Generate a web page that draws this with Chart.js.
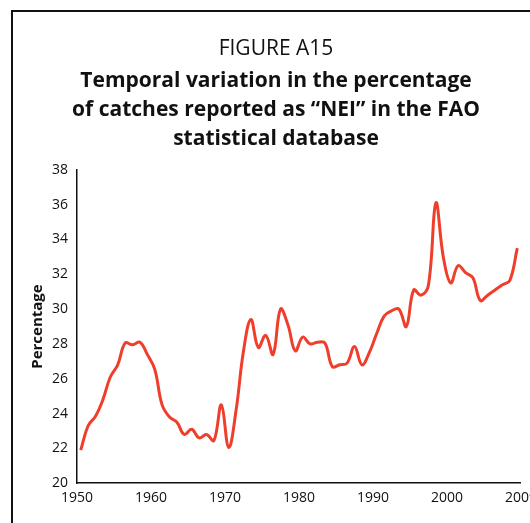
<!DOCTYPE html>
<html>
<head>
<meta charset="utf-8">
<script src="https://cdn.jsdelivr.net/npm/chart.js@4"></script>
<style>
  body { margin: 0; background: #fff; overflow: hidden; width: 530px; height: 523px; }
  #frame {
    position: absolute; left: 11px; top: 10px; width: 540px; height: 530px;
    border-left: 2px solid #111; border-top: 2px solid #111;
  }
  #wrap { position: absolute; left: 0; top: 0; width: 526px; height: 511px; }
</style>
</head>
<body>
<div id="frame"><div id="wrap"><canvas id="chart"></canvas></div></div>
<script>
// Years 1950-2009, each drawn at the centre of its year slot
var years = [];
for (var y = 1950; y <= 2009; y++) years.push(y);

// Percentage of catches reported as "NEI"
var nei = [
  21.9, 23.3, 23.85, 24.8, 26.1, 26.8, 28.05, 27.95, 28.1, 27.4,
  26.55, 24.5, 23.8, 23.5, 22.8, 23.1, 22.6, 22.8, 22.45, 24.5,
  22.05, 24.2, 27.6, 29.4, 27.8, 28.5, 27.4, 30.0, 29.1, 27.6,
  28.4, 28.0, 28.1, 28.05, 26.7, 26.8, 26.9, 27.85, 26.8, 27.5,
  28.6, 29.6, 29.9, 30.0, 29.0, 31.1, 30.8, 31.4, 36.1, 33.0,
  31.5, 32.5, 32.1, 31.8, 30.5, 30.8, 31.1, 31.4, 31.65, 33.5
];

var yTicks = [20, 22, 24, 26, 28, 30, 32, 34, 36, 38];
var xTicks = [1950, 1960, 1970, 1980, 1990, 2000, 2010];
var xTickLabels = ["1950", "1960", "1970", "1980", "1990", "2000", "2009"];

var points = years.map(function (yr, i) {
  return { x: yr + 0.5, y: nei[i] };
});

var font = "'Open Sans', 'Noto Sans', sans-serif";

new Chart(document.getElementById("chart").getContext("2d"), {
  type: "line",
  data: {
    datasets: [{
      data: points,
      borderColor: "#ef3e2c",
      borderWidth: 3,
      pointRadius: 0,
      tension: 0.4,
      fill: false
    }]
  },
  options: {
    responsive: true,
    maintainAspectRatio: false,
    animation: false,
    layout: { padding: { left: 0, right: 0, top: 0, bottom: 15 } },
    plugins: {
      legend: { display: false },
      tooltip: { enabled: false },
      title: {
        display: true,
        text: "FIGURE A15",
        color: "#111",
        font: { family: font, size: 21, weight: "normal", lineHeight: 1.2 },
        padding: { top: 24, bottom: 3 }
      },
      subtitle: {
        display: true,
        text: [
          "Temporal variation in the percentage",
          "of catches reported as \u201cNEI\u201d in the FAO",
          "statistical database"
        ],
        color: "#111",
        font: { family: font, size: 21, weight: "bold", lineHeight: 1.36 },
        padding: { top: 3, bottom: 17 }
      }
    },
    scales: {
      x: {
        type: "linear",
        min: 1950,
        max: 2010,
        afterBuildTicks: function (axis) {
          axis.ticks = xTicks.map(function (v) { return { value: v }; });
        },
        grid: { display: false, drawTicks: true, tickLength: 4, tickColor: "#111" },
        border: { color: "#111", width: 1.5 },
        ticks: {
          color: "#111",
          padding: 2,
          maxRotation: 0,
          font: { family: font, size: 14 },
          callback: function (v) {
            var i = xTicks.indexOf(v);
            return i >= 0 ? xTickLabels[i] : "";
          }
        }
      },
      y: {
        min: 20,
        max: 38,
        afterBuildTicks: function (axis) {
          axis.ticks = yTicks.map(function (v) { return { value: v }; });
        },
        grid: { display: false, drawTicks: true, tickLength: 4, tickColor: "#111" },
        border: { color: "#111", width: 1.5 },
        ticks: {
          color: "#111",
          padding: 5,
          font: { family: font, size: 14 }
        },
        title: {
          display: true,
          text: "Percentage",
          color: "#111",
          font: { family: font, size: 15, weight: "bold" },
          padding: { top: 16, bottom: 0 }
        }
      }
    }
  }
});
</script>
</body>
</html>
